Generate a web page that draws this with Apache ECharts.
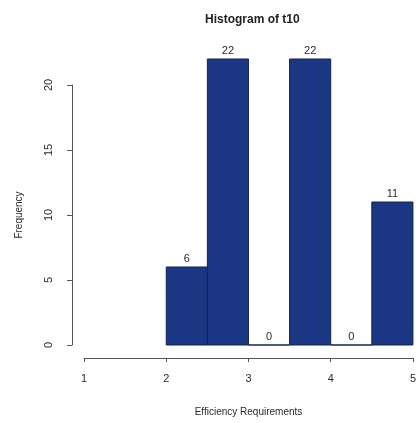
<!DOCTYPE html>
<html>
<head>
<meta charset="utf-8">
<script src="https://cdn.jsdelivr.net/npm/echarts@6/dist/echarts.min.js"></script>
<style>
  html, body { margin: 0; padding: 0; background: #fff; }
  #chart { width: 419px; height: 423px; }
</style>
</head>
<body>
<div id="chart"></div>
<script>
// Histogram bins (left and right edges) and their counts
const binStarts = [2.0, 2.5, 3.0, 3.5, 4.0, 4.5];
const binEnds   = [2.5, 3.0, 3.5, 4.0, 4.5, 5.0];
const counts    = [6, 22, 0, 22, 0, 11];

// Axis tick values
const xTicks = [1, 2, 3, 4, 5];
const yTicks = [0, 5, 10, 15, 20];

const FONT = '"Liberation Sans", Arial, sans-serif';
const TEXT = '#2a2a2a';
const AXIS = '#555';
const BAR = '#1b3784';
const EDGE = '#14224f';

const chart = echarts.init(document.getElementById('chart'), null, { renderer: 'canvas' });

const binData = binStarts.map((s, i) => [s, binEnds[i], counts[i]]);

chart.setOption({
  animation: false,
  backgroundColor: '#fff',
  title: {
    text: 'Histogram of t10',
    left: 200,
    top: 9,
    textStyle: { fontFamily: FONT, fontSize: 12, fontWeight: 'bold', color: '#222' }
  },
  grid: [
    // plotting region: value range starts a little below zero so the
    // x axis sits detached beneath the bars
    { left: 84, right: 5, top: 59, bottom: 65 },
    // narrow region carrying the frequency axis (0..20)
    { left: 72, width: 1, top: 85, bottom: 78 }
  ],
  xAxis: [
    {
      gridIndex: 0, type: 'value', min: 1, max: 5, interval: 1,
      axisLine: { show: true, onZero: false, lineStyle: { color: AXIS, width: 1 } },
      axisTick: { show: true, length: 4, lineStyle: { color: AXIS } },
      axisLabel: { margin: 15, fontFamily: FONT, fontSize: 11, color: TEXT,
                   customValues: xTicks },
      splitLine: { show: false },
      name: 'Efficiency Requirements', nameLocation: 'middle', nameGap: 49,
      nameTextStyle: { fontFamily: FONT, fontSize: 10, color: TEXT }
    },
    { gridIndex: 1, type: 'value', show: false, min: 0, max: 1 }
  ],
  yAxis: [
    { gridIndex: 0, type: 'value', min: -1, max: 22, show: false },
    {
      gridIndex: 1, type: 'value', min: 0, max: 20, interval: 5,
      axisLine: { show: true, onZero: false, lineStyle: { color: AXIS, width: 1 } },
      axisTick: { show: true, length: 5, lineStyle: { color: AXIS } },
      axisLabel: { rotate: 90, margin: 18, fontFamily: FONT, fontSize: 11, color: TEXT,
                   customValues: yTicks },
      splitLine: { show: false },
      name: 'Frequency', nameLocation: 'middle', nameGap: 48, nameRotate: 90,
      nameTextStyle: { fontFamily: FONT, fontSize: 10, color: TEXT }
    }
  ],
  series: [
    {
      type: 'custom',
      xAxisIndex: 0, yAxisIndex: 0,
      clip: false,
      data: binData,
      renderItem: function (params, api) {
        const x0 = api.value(0), x1 = api.value(1), n = api.value(2);
        const p0 = api.coord([x0, 0]);
        const p1 = api.coord([x1, n]);
        return {
          type: 'group',
          children: [
            {
              type: 'rect',
              shape: { x: p0[0], y: p1[1], width: p1[0] - p0[0], height: p0[1] - p1[1] },
              style: { fill: BAR, stroke: EDGE, lineWidth: 1 }
            },
            {
              type: 'text',
              x: (p0[0] + p1[0]) / 2,
              y: p1[1] - 3,
              style: {
                text: String(n), fontFamily: FONT, fontSize: 11, fill: TEXT,
                align: 'center', verticalAlign: 'bottom'
              }
            }
          ]
        };
      }
    }
  ]
});
</script>
</body>
</html>
